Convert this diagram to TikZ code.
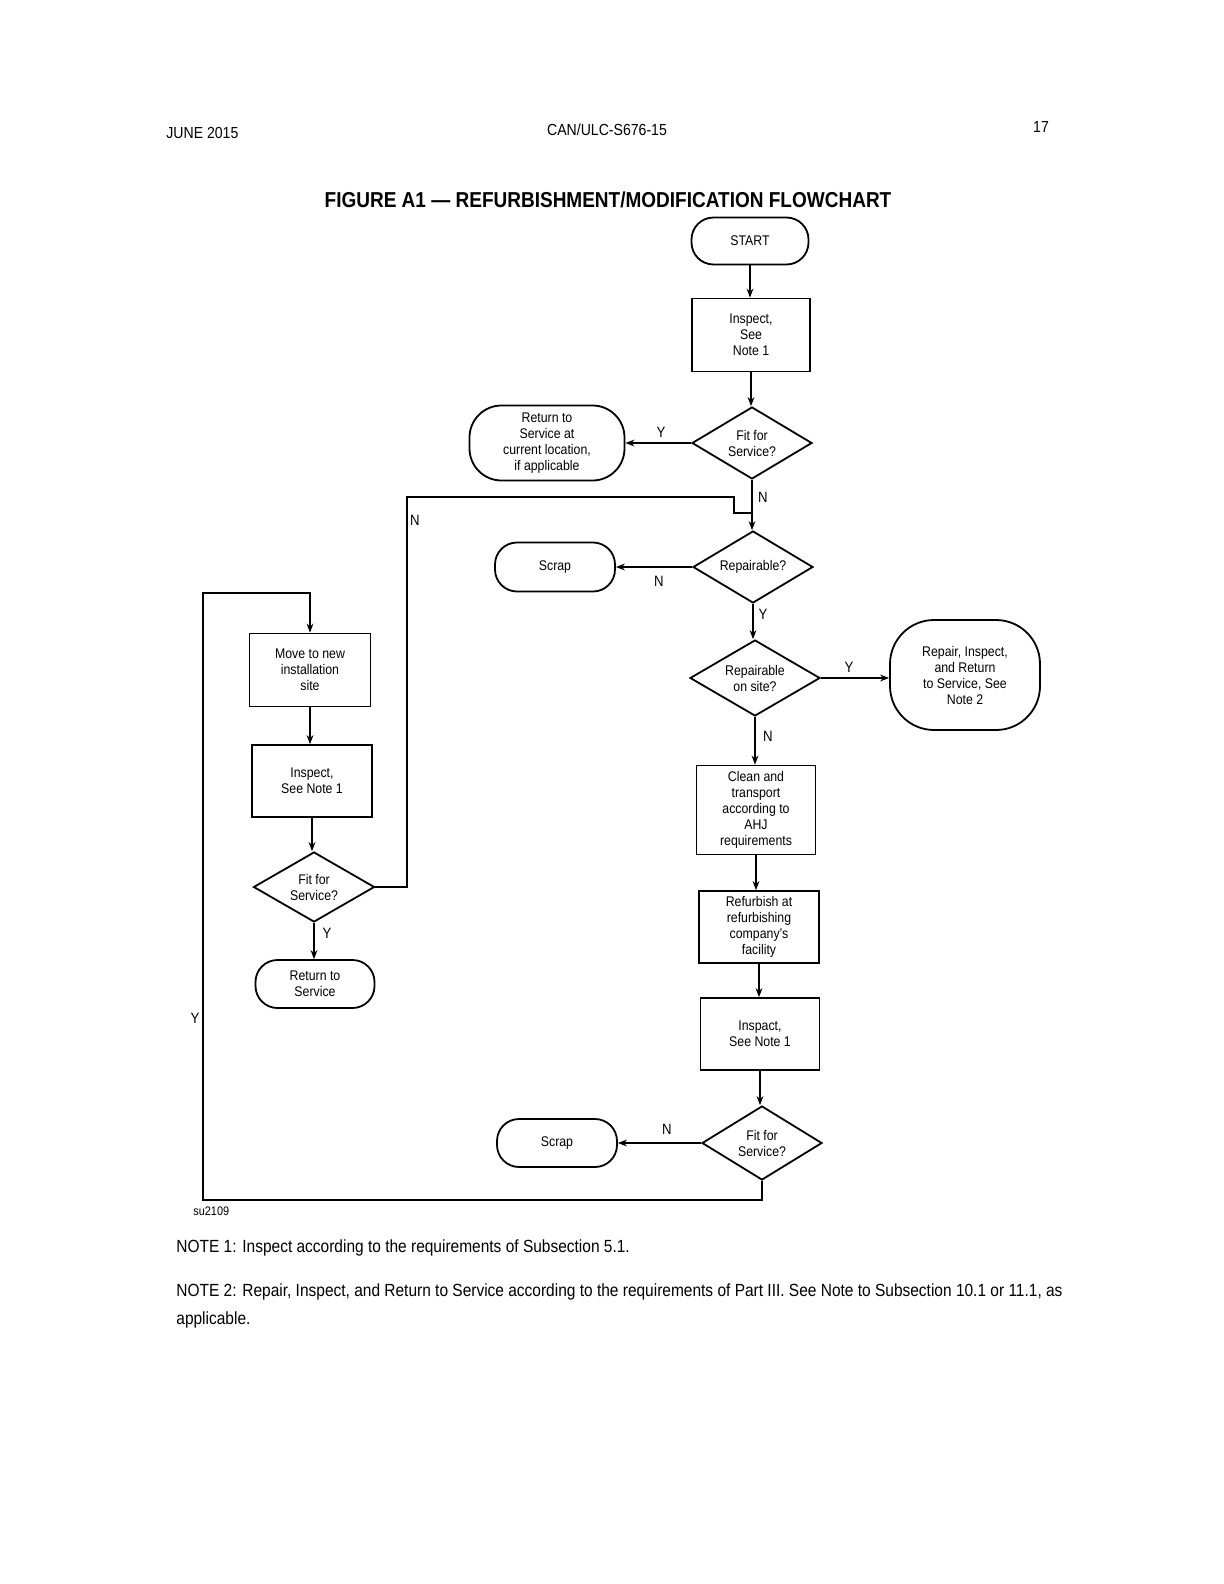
\documentclass[tikz,border=0pt]{standalone}
\usepackage{fontspec}
\setmainfont{Liberation Sans}[FakeStretch=0.88]
\usetikzlibrary{shapes.geometric,arrows.meta}
\begin{document}
\begin{tikzpicture}[x=0.5pt,y=-0.5pt,
 base/.style={draw,line width=0.9pt,align=center,font=\fontsize{7}{8}\selectfont,inner sep=0pt},
 proc/.style={base,rectangle},
 term/.style={base,rectangle,rounded corners=11pt},
 dec/.style={base,diamond,aspect=1.67},
 conn/.style={line width=0.65pt},
 arr/.style={conn,-{Stealth[length=4.5pt,width=3.4pt]}},
 lbl/.style={font=\fontsize{7.5}{8}\selectfont,inner sep=0pt},
 hdr/.style={font=\fontsize{8}{9}\selectfont,inner sep=0pt},
 note/.style={font=\fontsize{8.8}{14}\selectfont,inner sep=0pt,anchor=west,align=left}]
\useasboundingbox (0,0) rectangle (1224,1584);
\fill[white] (0,0) rectangle (1224,1584);

% header
\node[hdr,anchor=west] (hd1) at (166,133) {JUNE 2015};
\node[hdr] (hd2) at (607,130) {CAN/ULC-S676-15};
\node[hdr] (hd3) at (1041,127) {17};
\node[font=\bfseries\fontsize{10.8}{12}\selectfont,inner sep=0pt] (title) at (608,200) {FIGURE A1 — REFURBISHMENT/MODIFICATION FLOWCHART};

% right column
\node[term,minimum width=58.5pt,minimum height=23.5pt] (start) at (750,241) {START};
\node[proc,minimum width=59pt,minimum height=36.5pt] (insp1) at (751,335) {Inspect,\\See\\Note 1};
\node[dec,minimum width=60pt,minimum height=36pt] (fit1) at (752,443) {Fit for\\Service?};
\node[term,rounded corners=16pt,minimum width=77.5pt,minimum height=37.5pt] (ret1) at (547,443) {Return to\\Service at\\current location,\\if applicable};
\node[dec,minimum width=60pt,minimum height=36pt] (rep) at (753,567) {Repairable?};
\node[term,minimum width=60pt,minimum height=24.5pt] (scrap1) at (555,567) {Scrap};
\node[dec,minimum width=65pt,minimum height=38pt] (onsite) at (755,678) {Repairable\\on site?};
\node[term,rounded corners=22pt,minimum width=75pt,minimum height=55pt] (repair) at (965,675) {Repair, Inspect,\\and Return\\to Service, See\\Note 2};
\node[proc,minimum width=59.5pt,minimum height=44.5pt] (clean) at (756,810) {Clean and\\transport\\according to\\AHJ\\requirements};
\node[proc,minimum width=60pt,minimum height=36pt] (refurb) at (759,927) {Refurbish at\\refurbishing\\company's\\facility};
\node[proc,minimum width=59.5pt,minimum height=36pt] (insp3) at (760,1034) {Inspact,\\See Note 1};
\node[dec,minimum width=60pt,minimum height=37pt] (fit3) at (762,1143) {Fit for\\Service?};
\node[term,minimum width=60pt,minimum height=24pt] (scrap2) at (557,1143) {Scrap};

% left column
\node[proc,minimum width=60.5pt,minimum height=36.5pt] (move) at (310,670) {Move to new\\installation\\site};
\node[proc,minimum width=60pt,minimum height=36pt] (insp2) at (312,781) {Inspect,\\See Note 1};
\node[dec,minimum width=60.5pt,minimum height=35pt] (fit2) at (314,887) {Fit for\\Service?};
\node[term,minimum width=59.5pt,minimum height=24pt] (ret2) at (315,984) {Return to\\Service};

% connectors
\draw[arr] (start.south) -- (start.south |- insp1.north);
\draw[arr] (insp1.south) -- (insp1.south |- fit1.north);
\draw[arr] (fit1.west) -- (ret1.east);
\draw[arr] (fit1.south) -- (fit1.south |- rep.north);
\draw[arr] (rep.west) -- (scrap1.east);
\draw[arr] (rep.south) -- (rep.south |- onsite.north);
\draw[arr] (onsite.east) -- (onsite.east -| repair.west);
\draw[arr] (onsite.south) -- (onsite.south |- clean.north);
\draw[arr] (clean.south) -- (clean.south |- refurb.north);
\draw[arr] (refurb.south) -- (refurb.south |- insp3.north);
\draw[arr] (insp3.south) -- (insp3.south |- fit3.north);
\draw[arr] (fit3.west) -- (scrap2.east);
\draw[arr] (move.south) -- (move.south |- insp2.north);
\draw[arr] (insp2.south) -- (insp2.south |- fit2.north);
\draw[arr] (fit2.south) -- (fit2.south |- ret2.north);

\coordinate (a1) at (407,497);
\coordinate (a2) at (734,513);
\draw[conn] (fit2.east) -| (a1) -| (a2) -- (a2 -| fit1.south);

\coordinate (b1) at (203,1200);
\coordinate (b2) at (203,593);
\draw[arr] (fit3.south) |- (b1) -- (b2) -| (move.north);

% labels
\node[lbl] (y1) at (661,432) {Y};
\node[lbl] (n1) at (763,497) {N};
\node[lbl] (n2) at (415,520) {N};
\node[lbl] (n3) at (659,581) {N};
\node[lbl] (y2) at (763,614) {Y};
\node[lbl] (y3) at (849,667) {Y};
\node[lbl] (n4) at (768,736) {N};
\node[lbl] (n5) at (667,1129) {N};
\node[lbl] (y4) at (195,1018) {Y};
\node[lbl] (y5) at (327,933) {Y};

% footer
\node[font=\fontsize{6.2}{7}\selectfont,inner sep=0pt,anchor=west] (su) at (193,1211) {su2109};
\node[note] (note1) at (176,1248) {NOTE 1: Inspect according to the requirements of Subsection 5.1.};
\node[note,anchor=north west] (note2) at (176,1283) {NOTE 2: Repair, Inspect, and Return to Service according to the requirements of Part III. See Note to Subsection 10.1 or 11.1, as\\applicable.};
\end{tikzpicture}
\end{document}
